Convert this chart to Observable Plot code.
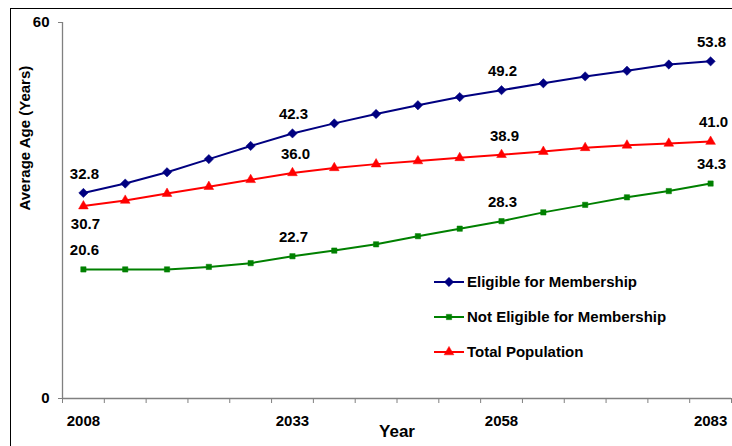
<!DOCTYPE html>
<html><head><meta charset="utf-8">
<script src="https://cdn.jsdelivr.net/npm/d3@7"></script>
<script src="https://cdn.jsdelivr.net/npm/@observablehq/plot@0.6"></script>
<style>
body{margin:0;background:#fff;font-family:Arial,"Liberation Sans",sans-serif;}
#wrap{position:relative;width:732px;height:446px;overflow:hidden;background:#fff;}
#border{position:absolute;left:10px;top:8px;width:780px;height:500px;border:1.5px solid #000;}
#chart{position:absolute;left:0;top:0;}
.lg{position:absolute;left:434px;height:20px;line-height:20px;font-weight:bold;font-size:15px;color:#000;white-space:nowrap;}
.lg svg{position:absolute;left:0;top:0;}
.lg span{position:absolute;left:33px;top:0;}
</style></head><body>
<div id="wrap"><div id="border"></div><div id="chart"></div></div>
<script>
const years = [2008,2013,2018,2023,2028,2033,2038,2043,2048,2053,2058,2063,2068,2073,2078,2083];
const eligible    = [32.8,34.3,36.1,38.2,40.3,42.3,43.9,45.4,46.8,48.1,49.2,50.3,51.4,52.3,53.3,53.8];
const notEligible = [20.6,20.6,20.6,21.0,21.6,22.7,23.6,24.6,25.9,27.1,28.3,29.7,30.9,32.1,33.1,34.3];
const total       = [30.7,31.6,32.7,33.8,34.9,36.0,36.8,37.4,37.9,38.4,38.9,39.4,40.0,40.4,40.7,41.0];
const seriesNames = ["Eligible for Membership","Not Eligible for Membership","Total Population"];
const seriesColors = ["#000080","#008000","#FF0000"];
const seriesSymbols = ["diamond2","square","triangle"];
const labelYears = [2008,2033,2058,2083];
const yTicks = [0,60];

const seriesValues = [eligible, notEligible, total];
const rows = [];
seriesNames.forEach((s,i)=>years.forEach((y,j)=>rows.push({series:s, year:y, value:seriesValues[i][j]})));
const labeled = rows.filter(d=>labelYears.includes(d.year));
const below = d => d.series==="Total Population" && d.year===2008;
const fmt = d3.format(".1f");
const edges = d3.range(years.length+1).map(i => years[0]-2.5+5*i);
const markerR = {"Eligible for Membership":4.2,"Not Eligible for Membership":3.0,"Total Population":3.6};
const labelDx = {"Eligible for Membership":1,"Not Eligible for Membership":1,"Total Population":3};

const axisColor = "#808080";
const chart = Plot.plot({
  width:732, height:446,
  marginLeft:62, marginRight:1, marginTop:22, marginBottom:48,
  style:{fontFamily:'Arial,"Liberation Sans",sans-serif', fontSize:"15px", fontWeight:"bold", background:"none", color:"#000", overflow:"visible"},
  x:{domain:[edges[0], edges[edges.length-1]], axis:null},
  y:{domain:[0,60], axis:null},
  color:{domain:seriesNames, range:seriesColors},
  symbol:{domain:seriesNames, range:seriesSymbols},
  marks:[
    Plot.ruleX([edges[0]], {stroke:axisColor, strokeWidth:1.3}),
    Plot.ruleY([0], {stroke:axisColor, strokeWidth:1.3}),
    Plot.axisX(edges, {tickSize:5, tickFormat:()=>"", stroke:axisColor, label:null}),
    Plot.axisY(yTicks, {tickSize:4, tickPadding:9, stroke:axisColor, fill:"#000", fontSize:15, fontWeight:"bold", label:null}),
    Plot.text(labelYears, {x:d=>d, y:0, dy:23, text:d=>String(d), fill:"#000"}),
    Plot.text(["Year"], {frameAnchor:"bottom", dy:38, fontSize:17, fill:"#000"}),
    Plot.text(["Average Age (Years)"], {frameAnchor:"left", dx:-37, rotate:-90, fill:"#000"}),
    Plot.line(rows, {x:"year", y:"value", stroke:"series", strokeWidth:2}),
    ...seriesNames.map(s => Plot.dot(rows.filter(d=>d.series===s), {x:"year", y:"value", symbol:"series", fill:"series", stroke:"series", strokeWidth:0.5, r:markerR[s]})),
    ...seriesNames.map(s => Plot.text(labeled.filter(d=>d.series===s && !below(d)), {x:"year", y:"value", text:d=>fmt(d.value), dy:-19, dx:labelDx[s], fill:"#000"})),
    Plot.text(labeled.filter(below), {x:"year", y:"value", text:d=>fmt(d.value), dy:18, dx:2, fill:"#000"})
  ]
});
document.getElementById("chart").appendChild(chart);

// legend
const wrap = document.getElementById("wrap");
const legendTops = [282, 317, 352];
seriesNames.forEach((s,i)=>{
  const row = document.createElement("div");
  row.className = "lg";
  row.style.top = (legendTops[i]-10)+"px";
  const sym = {diamond2:d3.symbolDiamond2, square:d3.symbolSquare, triangle:d3.symbolTriangle}[seriesSymbols[i]];
  const r = markerR[s];
  const path = d3.symbol(sym, Math.PI*r*r)();
  row.innerHTML = `<svg width="31" height="20"><line x1="0" x2="30" y1="10" y2="10" stroke="${seriesColors[i]}" stroke-width="2"/><path transform="translate(15,10)" d="${path}" fill="${seriesColors[i]}" stroke="${seriesColors[i]}" stroke-width="0.5"/></svg><span>${s}</span>`;
  wrap.appendChild(row);
});
</script>
</body></html>
